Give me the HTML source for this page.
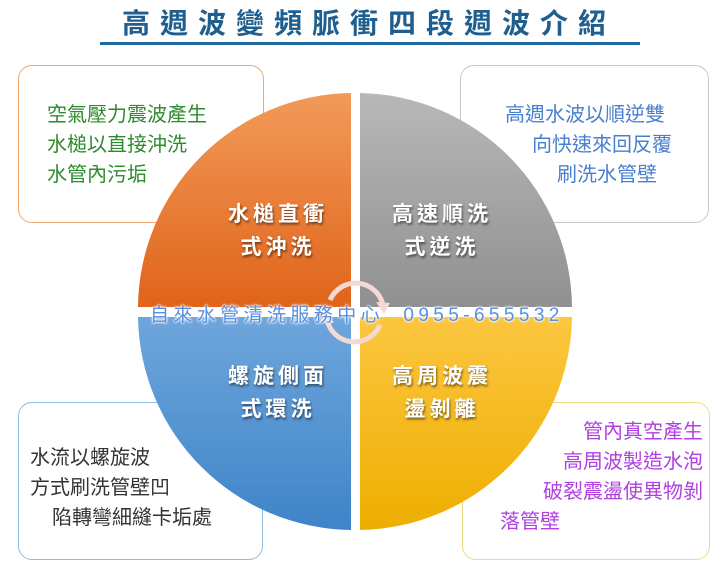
<!DOCTYPE html>
<html><head><meta charset="utf-8"><style>
body{margin:0;width:728px;height:568px;background:#fff;overflow:hidden;position:relative;font-family:"Liberation Sans","Noto Sans CJK TC",sans-serif}
.box{position:absolute;background:#fff;border-radius:14px;border:1.5px solid}
.t{position:absolute;font-size:20px;line-height:30px;white-space:nowrap}
.t span{display:block}
.q{position:absolute;color:#fff;font-weight:bold;font-size:21px;text-shadow:1px 2px 2px rgba(0,0,0,.5);text-align:center;width:160px;line-height:33px;letter-spacing:4px}
</style></head><body>
<div style="position:absolute;left:0;width:728px;top:2px;text-align:center;font-size:28px;font-weight:bold;color:#1f5f8f;letter-spacing:10px;text-indent:10px">高週波變頻脈衝四段週波介紹</div>
<div style="position:absolute;left:100px;top:42px;width:540px;height:3px;background:#1f6aa0"></div>
<div class="box" style="left:18px;top:65px;width:244px;height:156px;border-color:#f0a870"></div>
<div class="box" style="left:460px;top:65px;width:247px;height:156px;border-color:#c8c8c8"></div>
<div class="box" style="left:18px;top:402px;width:243px;height:156px;border-color:#90bce0"></div>
<div class="box" style="left:462px;top:402px;width:246px;height:156px;border-color:#f0dc80"></div>
<svg style="position:absolute;left:0;top:0" width="728" height="568">
<defs>
<linearGradient id="o" x1="0" y1="0" x2="0" y2="1"><stop offset="0" stop-color="#f29a5a"/><stop offset="1" stop-color="#e0641a"/></linearGradient>
<linearGradient id="g" x1="0" y1="0" x2="0" y2="1"><stop offset="0" stop-color="#b8b8b8"/><stop offset="1" stop-color="#909090"/></linearGradient>
<linearGradient id="b" x1="0" y1="0" x2="0" y2="1"><stop offset="0" stop-color="#6ea6dc"/><stop offset="1" stop-color="#3f84c8"/></linearGradient>
<linearGradient id="y" x1="0" y1="0" x2="0" y2="1"><stop offset="0" stop-color="#fcc640"/><stop offset="1" stop-color="#eeae00"/></linearGradient>
</defs>
<path d="M351,307 L351,93 A216,216 0 0 0 138,307 Z" fill="url(#o)"/>
<path d="M360,307 L360,93 A216,216 0 0 1 572,307 Z" fill="url(#g)"/>
<path d="M351,317 L351,530 A216,216 0 0 1 138,317 Z" fill="url(#b)"/>
<path d="M360,317 L360,530 A216,216 0 0 0 572,317 Z" fill="url(#y)"/>
<g fill="none" stroke="#f4d8d4" stroke-width="5">
<path d="M330,300 A28,28 0 0 1 383,305"/>
<path d="M380,325 A28,28 0 0 1 327,320"/>
</g>
<path d="M376,302 L390,303 L384,314 Z" fill="#f4d8d4"/>
<path d="M334,323 L320,322 L326,311 Z" fill="#f4d8d4"/>
</svg>
<div class="q" style="left:198px;top:198px">水槌直衝<br>式沖洗</div>
<div class="q" style="left:362px;top:198px">高速順洗<br>式逆洗</div>
<div class="q" style="left:198px;top:360px">螺旋側面<br>式環洗</div>
<div class="q" style="left:362px;top:360px">高周波震<br>盪剝離</div>
<div style="position:absolute;left:150px;top:300px;font-size:19px;color:#5a8de0;white-space:nowrap;letter-spacing:4.4px;text-shadow:0 0 2px #fff,0 0 2px #fff,0 0 3px #fff">自來水管清洗服務中心&nbsp; 0955-655532</div>
<div class="t" style="left:47px;top:100px;color:#2e8b2e">空氣壓力震波產生<br>水槌以直接沖洗<br>水管內污垢</div>
<div class="t" style="left:505px;top:100px;color:#4a7fd0"><span>高週水波以順逆雙</span><span style="padding-left:27px">向快速來回反覆</span><span style="padding-left:52px">刷洗水管壁</span></div>
<div class="t" style="left:30px;top:443px;color:#333"><span>水流以螺旋波</span><span>方式刷洗管壁凹</span><span style="padding-left:22px">陷轉彎細縫卡垢處</span></div>
<div class="t" style="left:500px;top:417px;color:#b040e0;text-align:right;width:203px">管內真空產生<br>高周波製造水泡<br>破裂震盪使異物剝<br><span style="text-align:left">落管壁</span></div>
</body></html>
